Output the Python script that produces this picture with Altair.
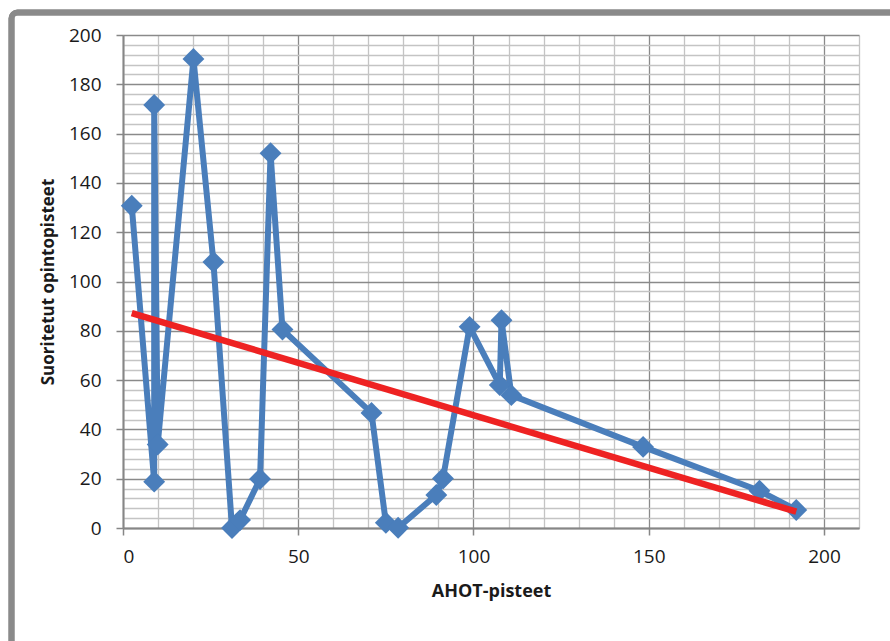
import altair as alt
import pandas as pd

# Data
ahot = [2.5, 8.9, 8.9, 9.9, 20.1, 25.8, 31.1, 33.4, 39.1, 42.1, 45.5, 70.9,
        75.0, 78.5, 89.4, 91.3, 98.9, 107.5, 108.0, 110.8, 148.4, 181.6, 192.1]
opinto = [130.7, 18.8, 171.6, 33.9, 190.3, 107.9, 0.0, 3.2, 19.9, 152.0, 80.5, 46.7,
          2.1, 0.1, 13.4, 20.1, 81.6, 58.0, 84.3, 53.9, 32.9, 15.1, 7.3]
trend_x = [2.5, 192.1]
trend_y = [87.2, 6.6]

x_major = [0, 50, 100, 150, 200]
x_minor = [v for v in range(0, 211, 10) if v % 50 != 0]
y_major = list(range(0, 201, 20))
y_minor = [v for v in range(0, 201, 4) if v % 20 != 0]

df = pd.DataFrame({"x": ahot, "y": opinto, "order": list(range(len(ahot)))})
trend = pd.DataFrame({"x": trend_x, "y": trend_y})

FONT = "Open Sans"
W, H = 736, 493
xs = alt.Scale(domain=[0, 210], nice=False, zero=False)
ys = alt.Scale(domain=[0, 200], nice=False, zero=False)

minor_x_axis = alt.Axis(values=x_minor, grid=True, gridColor="#c4c4c4", gridWidth=1.3,
                        domain=False, ticks=False, labels=False, title=None, orient="bottom")
minor_y_axis = alt.Axis(values=y_minor, grid=True, gridColor="#c4c4c4", gridWidth=1.3,
                        domain=False, ticks=False, labels=False, title=None, orient="left")

major_x_axis = alt.Axis(values=x_major, grid=True, gridColor="#8a8a8a", gridWidth=1.3,
                        domain=True, domainColor="#868686", domainWidth=2,
                        ticks=True, tickColor="#868686", tickSize=7, tickWidth=1.5,
                        labels=True, labelFont=FONT, labelFontSize=19, labelColor="#1a1a1a",
                        labelPadding=12, orient="bottom",
                        title="AHOT-pisteet", titleFont=FONT, titleFontSize=18,
                        titleFontWeight="bold", titleColor="#1a1a1a",
                        titleX=W / 2, titleY=63, titleBaseline="middle", titleAlign="center")
major_y_axis = alt.Axis(values=y_major, grid=True, gridColor="#8a8a8a", gridWidth=1.3,
                        domain=True, domainColor="#868686", domainWidth=2,
                        ticks=True, tickColor="#868686", tickSize=7, tickWidth=1.5,
                        labels=True, labelFont=FONT, labelFontSize=19, labelColor="#1a1a1a",
                        labelPadding=15, orient="left",
                        title="Suoritetut opintopisteet", titleFont=FONT, titleFontSize=17,
                        titleFontWeight="bold", titleColor="#1a1a1a",
                        titleX=-75, titleY=H / 2, titleBaseline="middle", titleAlign="center",
                        titleAngle=270)

minor_grid = alt.Chart(df).mark_point(opacity=0).encode(
    x=alt.X("x:Q", scale=xs, axis=minor_x_axis),
    y=alt.Y("y:Q", scale=ys, axis=minor_y_axis),
)
major_grid = alt.Chart(df).mark_point(opacity=0).encode(
    x=alt.X("x:Q", scale=xs, axis=major_x_axis),
    y=alt.Y("y:Q", scale=ys, axis=major_y_axis),
)

line = alt.Chart(df).mark_line(
    color="#4a7ebb", strokeWidth=6, strokeJoin="round",
    point=alt.OverlayMarkDef(shape="diamond", size=480, filled=True, color="#4a7ebb", opacity=1),
).encode(
    x=alt.X("x:Q", scale=xs, axis=None),
    y=alt.Y("y:Q", scale=ys, axis=None),
    order="order:Q",
)

trend_line = alt.Chart(trend).mark_line(color="#ee2222", strokeWidth=6.5).encode(
    x=alt.X("x:Q", scale=xs, axis=None),
    y=alt.Y("y:Q", scale=ys, axis=None),
)

border = alt.Chart(trend).mark_rect(
    filled=False, stroke="#8a8a8a", strokeWidth=6, cornerRadius=6
).encode(
    x=alt.value(-111.5), x2=alt.value(820),
    y=alt.value(-22.5), y2=alt.value(700),
)

chart = alt.layer(minor_grid, major_grid, line, trend_line, border).resolve_axis(
    x="independent", y="independent"
).properties(
    width=W, height=H,
    autosize=alt.AutoSizeParams(type="none"),
    padding={"left": 123, "top": 35, "right": 31, "bottom": 113},
    background="white",
).configure_view(stroke=None)

chart.save("out.html", embed_options={"renderer": "svg", "actions": False})
